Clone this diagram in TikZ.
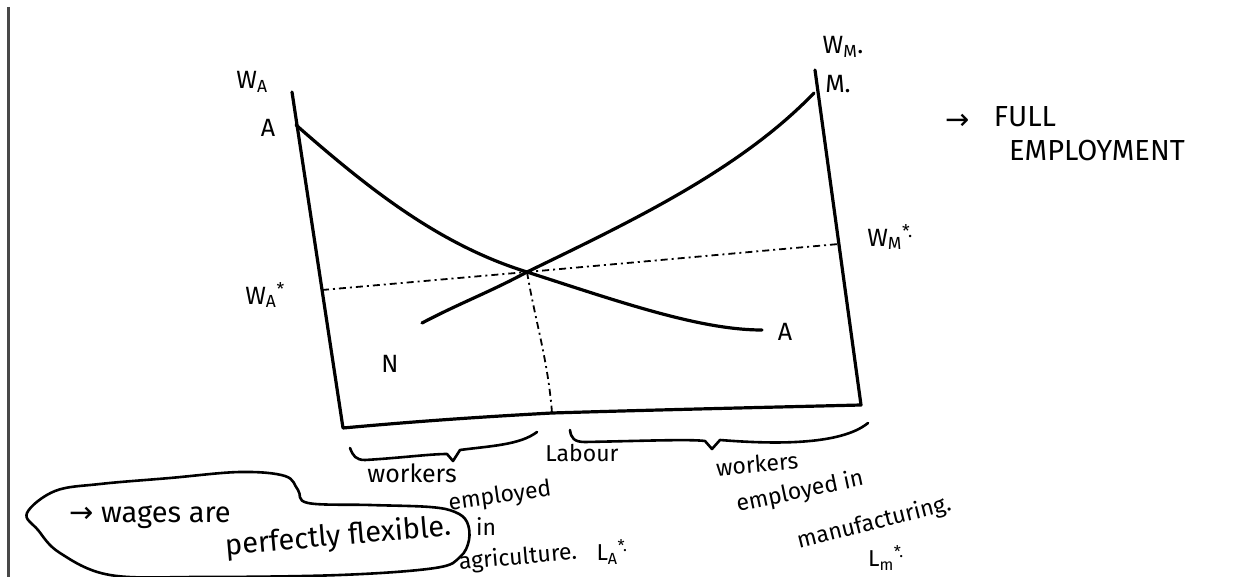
\documentclass[tikz,border=0pt]{standalone}
\usepackage{fontspec}
\setmainfont{Fira Sans}
\newfontfamily\symfont{DejaVu Sans}
\definecolor{bargray}{RGB}{72,72,72}
\begin{document}
\begin{tikzpicture}[x=1pt,y=-1pt,
  ink/.style={line width=3.2pt, line cap=round, line join=round},
  pen/.style={line width=2.6pt, line cap=round, line join=round},
  guide/.style={line width=1.8pt, dash pattern=on 7pt off 4pt on 2pt off 4pt},
  lbl/.style={font=\fontsize{25}{27}\selectfont, inner sep=0pt},
  small/.style={font=\fontsize{23}{25}\selectfont, inner sep=0pt},
  bigtext/.style={font=\fontsize{29}{31}\selectfont, inner sep=0pt},
  note/.style={font=\fontsize{29}{31}\selectfont, inner sep=0pt}]
\useasboundingbox (0,0) rectangle (1251,577);
\clip (0,0) rectangle (1251,577);
% page margin bar
\draw[line width=3pt, bargray] (8,7) -- (8,580);
% key points
\coordinate (Ltop) at (292,92);
\coordinate (O) at (343,428);
\coordinate (Mb) at (552,413);
\coordinate (R) at (861,405);
\coordinate (Rtop) at (815,70);
\coordinate (A0) at (296,125);
\coordinate (E) at (527,272);
\coordinate (A1) at (762,330);
\coordinate (N0) at (422,323);
\coordinate (M1) at (814,93);
\coordinate (WA) at (322,290);
\coordinate (WM) at (839,244);
% axes box
\draw[ink] (Ltop) -- (O) .. controls (420,421) and (480,417) .. (Mb)
  .. controls (650,410) and (780,407) .. (R) -- (Rtop);
% curves
\draw[ink] (A0) .. controls (370,190) and (440,245) .. (E)
  .. controls (620,302) and (700,330) .. (A1);
\draw[ink] (N0) .. controls (460,303) and (490,292) .. (E)
  .. controls (630,222) and (740,170) .. (M1);
% guides
\draw[guide] (WA) -- (E) -- (WM);
\draw[guide] (E) .. controls (535,320) and (548,360) .. (Mb);
% braces
\draw[pen] (350,448) .. controls (353,456) and (356,460) .. (365,460)
  .. controls (400,458) and (430,454) .. (447,454) -- (453,461)
  -- (460,450) .. controls (490,446) and (520,445) .. (537,432);
\draw[pen] (570,430) .. controls (571,438) and (574,442) .. (585,442)
  .. controls (640,441) and (690,439) .. (705,441) -- (712,449)
  -- (720,440) .. controls (770,444) and (840,446) .. (868,423);
% bubble
\draw[pen] plot[smooth cycle, tension=0.6] coordinates {
  (27,513) (55,491) (100,484) (170,478) (240,472) (285,476) (298,490)
  (308,503) (370,505) (430,507) (455,512) (467,522) (469,540) (460,557)
  (435,568) (340,575) (200,577) (110,575) (60,553) (38,530)};
% axis labels
\node[lbl] (wa) at (252,82) {W\textsubscript{A}};
\node[lbl] (a) at (268,128) {A};
\node[lbl] (was) at (265,295) {W\textsubscript{A}\textsuperscript{*}};
\node[lbl] (n) at (390,364) {N};
\node[lbl] (a2) at (785,332) {A};
\node[lbl] (wm) at (843,47) {W\textsubscript{M}.};
\node[lbl] (m) at (838,84) {M.};
\node[lbl] (wms) at (890,237) {W\textsubscript{M}\textsuperscript{*.}};
% full employment
\node[note] (arr) at (958,122) {\symfont →};
\node[note] (full) at (1025,117) {FULL};
\node[note] (emp) at (1097,151) {EMPLOYMENT};
% lower labels
\node[lbl] (wk1) at (412,473) {workers};
\node[small, rotate=8] (em1) at (500,497) {employed};
\node[small] (in1) at (486,527) {in};
\node[small, rotate=5] (ag) at (518,558) {agriculture.};
\node[small] (la) at (612,552) {L\textsubscript{A}\textsuperscript{*.}};
\node[small] (lab) at (582,453) {Labour};
\node[small, rotate=5] (wk2) at (757,464) {workers};
\node[small, rotate=12] (em2) at (800,492) {employed in};
\node[small, rotate=14] (man) at (874,523) {manufacturing.};
\node[small] (lm) at (886,558) {L\textsubscript{m}\textsuperscript{*.}};
% bubble text
\node[bigtext] (wg) at (150,517) {{\symfont →} wages are};
\node[bigtext, rotate=5] (pf) at (338,537) {perfectly flexible.};
\end{tikzpicture}
\end{document}
